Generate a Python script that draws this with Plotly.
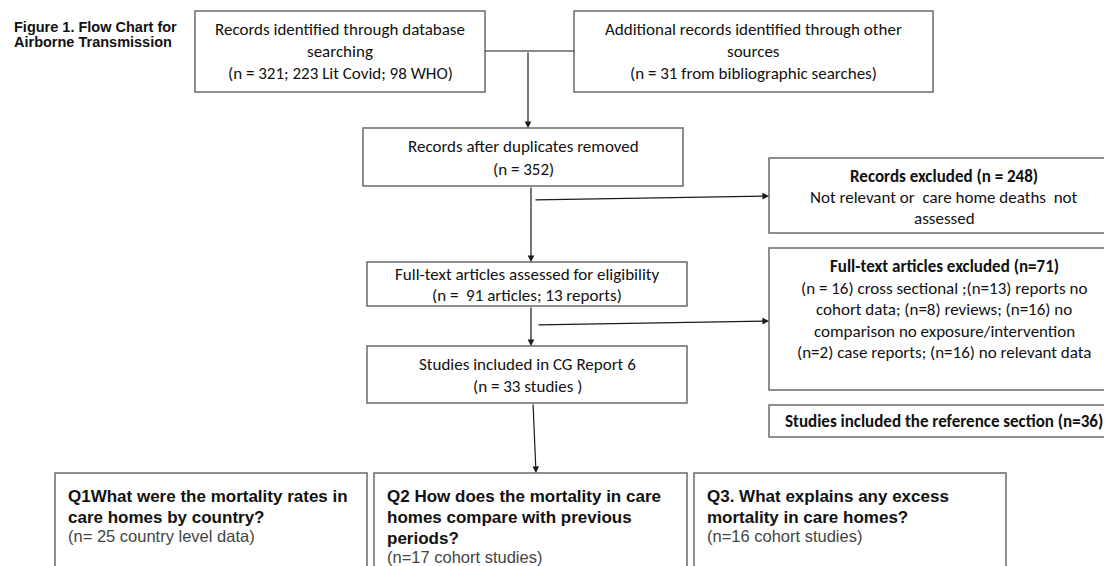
import plotly.graph_objects as go

# ---- data (counts) ----
db_total, db_litcovid, db_who = 321, 223, 98
other_sources = 31
after_duplicates = 352
records_excluded = 248
fulltext_articles, fulltext_reports = 91, 13
fulltext_excluded = 71
excl_labels = ["cross sectional", "reports no cohort data", "reviews",
               "no comparison no exposure/intervention", "case reports", "no relevant data"]
excl_counts = [16, 13, 8, 16, 2, 16]
studies_included = 33
reference_section = 36
question_labels = ["Q1What were the mortality rates in|care homes by country?",
                   "Q2 How does the mortality in care|homes compare with previous|periods?",
                   "Q3. What explains any excess|mortality in care homes?"]
question_counts = [25, 17, 16]
question_units = ["country level data", "cohort studies", "cohort studies"]
question_prefix = ["(n= ", "(n=", "(n="]

# ---- texts built from the data ----
box_lines = {
    "b1": ["Records identified through database", "searching",
           f"(n = {db_total}; {db_litcovid} Lit Covid; {db_who} WHO)"],
    "b2": ["Additional records identified through other", "sources",
           f"(n = {other_sources} from bibliographic searches)"],
    "b3": ["Records after duplicates removed", f"(n = {after_duplicates})"],
    "b4": [f"<b>Records excluded (n = {records_excluded})</b>",
           "Not relevant or  care home deaths  not", "assessed"],
    "b5": ["Full-text articles assessed for eligibility",
           f"(n =  {fulltext_articles} articles; {fulltext_reports} reports)"],
    "b6": [f"<b>Full-text articles excluded (n={fulltext_excluded})</b>",
           f"(n = {excl_counts[0]}) {excl_labels[0]} ;(n={excl_counts[1]}) reports no",
           f"cohort data; (n={excl_counts[2]}) {excl_labels[2]}; (n={excl_counts[3]}) no",
           "comparison no exposure/intervention",
           f"(n={excl_counts[4]}) {excl_labels[4]}; (n={excl_counts[5]}) {excl_labels[5]}"],
    "b7": ["Studies included in CG Report 6", f"(n = {studies_included} studies )"],
    "b8": [f"<b>Studies included the reference section (n={reference_section})</b>"],
}

# ---- layout geometry (page pixels, y downward) ----
W, H = 1112, 566
OFF = 8  # page body margin
FW, FH = W - OFF, H - OFF
boxes = {
    "b1": (195, 485, 11, 92, [29, 51, 73]),
    "b2": (574, 933, 11, 92, [29, 51, 73]),
    "b3": (363, 683, 128, 186, [146, 169]),
    "b4": (769, 1120, 158, 233, [176, 197, 218]),
    "b5": (367, 687, 262, 306, [274, 295]),
    "b6": (769, 1120, 248, 390, [266, 288, 309, 331, 352]),
    "b7": (367, 687, 346, 403, [364, 386]),
    "b8": (769, 1120, 405, 437, [421]),
}
text_cx = {"b4": 944, "b6": 944, "b8": 944}
qboxes = [(55, 367), (374, 687), (694, 1006)]
q_top = 473

BOX_FONT = "Calibri, Carlito, Lato, sans-serif"
ARIAL = "Arial, Liberation Sans, sans-serif"
BORDER = "#6a6a6a"
LINE = "#1a1a1a"

def X(v):
    return v - OFF

def Y(v):
    return v - OFF

fig = go.Figure()
fig.add_trace(go.Scatter(x=[0, FW], y=[0, FH], mode="markers",
                         marker=dict(opacity=0), hoverinfo="skip", showlegend=False))

shapes, annos = [], []

def rect(x0, x1, y0, y1):
    shapes.append(dict(type="rect", xref="x", yref="y", x0=X(x0), x1=X(x1), y0=Y(y0), y1=Y(y1),
                       line=dict(color=BORDER, width=1.5), fillcolor="white", layer="below"))

def line(x0, y0, x1, y1):
    shapes.append(dict(type="line", xref="x", yref="y", x0=X(x0), y0=Y(y0), x1=X(x1), y1=Y(y1),
                       line=dict(color=LINE, width=1.2)))

def arrow(x0, y0, x1, y1):
    annos.append(dict(x=X(x1), y=Y(y1), ax=X(x0), ay=Y(y0), xref="x", yref="y",
                      axref="x", ayref="y",
                      text="", showarrow=True, arrowhead=2, arrowsize=1.1, arrowwidth=1.2,
                      arrowcolor=LINE, standoff=0, startstandoff=0))

def label(x, y, txt, anchor, family, size, color="#111111"):
    annos.append(dict(x=X(x), y=Y(y), xref="x", yref="y", text=txt, showarrow=False,
                      xanchor=anchor, yanchor="middle",
                      font=dict(family=family, size=size, color=color)))

for key, (x0, x1, y0, y1, ys) in boxes.items():
    rect(x0, x1, y0, y1)
    cx = text_cx.get(key, (x0 + x1) / 2)
    for txt, yy in zip(box_lines[key], ys):
        label(cx, yy, txt, "center", BOX_FONT, 17)

# connectors
line(485, 51, 574, 51)
arrow(528, 51, 528, 128)
arrow(531, 186, 531, 262)
arrow(534, 200, 769, 196)
arrow(531, 306, 531, 346)
arrow(537, 325, 769, 321)
arrow(533, 403, 536, 473)

# question boxes
for (x0, x1), lab, n, unit, pre in zip(qboxes, question_labels, question_counts,
                                       question_units, question_prefix):
    rect(x0, x1, q_top, H + 20)
    yy = 496
    for p in lab.split("|"):
        label(x0 + 11, yy, f"<b>{p}</b>", "left", ARIAL, 17)
        yy += 21
    label(x0 + 11, yy - 2, f"{pre}{n} {unit})", "left", ARIAL, 16.5, "#444444")

# title
for txt, yy in zip(["Figure 1. Flow Chart for", "Airborne Transmission"], [27, 42]):
    label(12, yy, f"<b>{txt}</b>", "left", ARIAL, 14.5)

fig.update_layout(
    width=FW, height=FH, margin=dict(l=0, r=0, t=0, b=0),
    paper_bgcolor="white", plot_bgcolor="white",
    xaxis=dict(range=[0, FW], visible=False, fixedrange=True),
    yaxis=dict(range=[FH, 0], visible=False, fixedrange=True),
    shapes=shapes, annotations=annos, showlegend=False,
)
fig.write_html("out.html")
